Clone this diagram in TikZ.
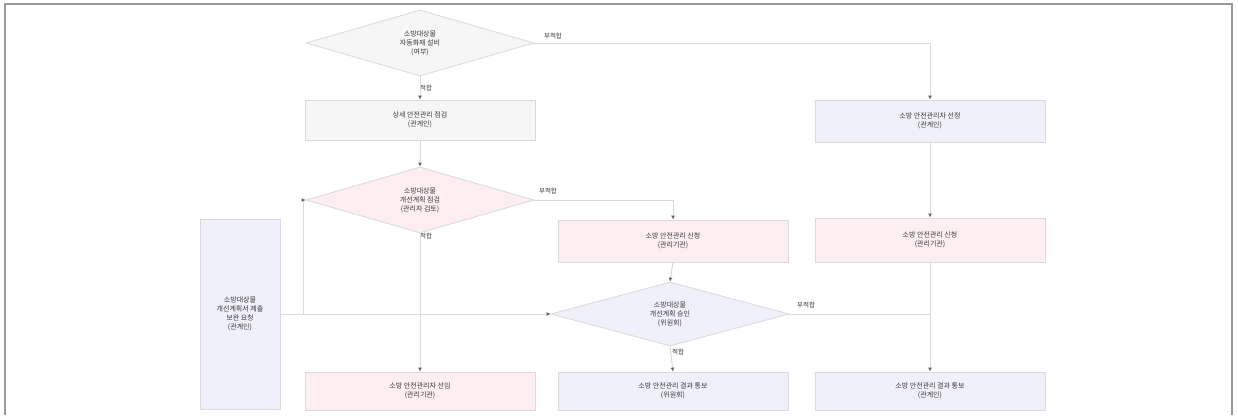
\documentclass[tikz,border=0pt]{standalone}
\usepackage{fontspec}
\setmainfont{Noto Sans CJK KR}
\usetikzlibrary{shapes.geometric,arrows.meta}
\definecolor{pinkf}{HTML}{FCEEF1}
\definecolor{lavf}{HTML}{F0F0FB}
\definecolor{grayf}{HTML}{F6F6F6}
\definecolor{edge}{HTML}{DADADA}
\definecolor{txt}{HTML}{3A3A3A}
\tikzset{
  every node/.style={font=\fontsize{7}{9}\selectfont, text=txt, align=center},
  procbox/.style={draw=edge, line width=0.8pt, minimum width=230pt, minimum height=40pt, inner sep=0pt},
  decide/.style={draw=edge, line width=0.8pt, diamond, aspect=3.5, minimum width=228pt, minimum height=66pt, inner sep=0pt},
  conn/.style={draw=edge, line width=1pt},
  arr/.style={conn, -{Latex[length=4pt,width=4pt,color=gray!80!black]}},
  lbl/.style={font=\fontsize{6.5}{7.5}\selectfont, inner sep=1pt}
}
\begin{document}
\begin{tikzpicture}[x=1pt,y=-1pt]
\useasboundingbox (0,0) rectangle (1238,415);
\fill[white] (0,0) rectangle (1238,415);
% frame
\draw[gray!80, line width=1.6pt] (5,415) -- (5,4) -- (1232,4) -- (1232,415);

% nodes
\node[decide, fill=grayf] (d1) at (420,43) {소방대상물\\자동화재 설비\\(여부)};
\node[procbox, fill=grayf] (b1) at (420,120) {상세 안전관리 점검\\(관계인)};
\node[decide, fill=pinkf] (d2) at (420,200) {소방대상물\\개선계획 점검\\(관리자 검토)};
\node[procbox, fill=pinkf, minimum height=42pt] (b2) at (673,241) {소방 안전관리 신청\\(관리기관)};
\node[decide, fill=lavf, minimum width=238pt, minimum height=64pt] (d3) at (670,314) {소방대상물\\개선계획 승인\\(위원회)};
\node[procbox, fill=lavf, minimum height=38pt] (b3) at (673,391) {소방 안전관리 결과 통보\\(위원회)};
\node[procbox, fill=pinkf, minimum height=38pt] (b4) at (420,391) {소방 안전관리자 선임\\(관리기관)};
\node[procbox, fill=lavf, minimum height=42pt] (r1) at (930,121) {소방 안전관리자 선정\\(관계인)};
\node[procbox, fill=pinkf, minimum height=44pt] (r2) at (930,240) {소방 안전관리 신청\\(관리기관)};
\node[procbox, fill=lavf, minimum height=38pt] (r3) at (930,391) {소방 안전관리 결과 통보\\(관계인)};
\node[procbox, fill=lavf, minimum width=80pt, minimum height=190pt] (lb) at (240,314) {소방대상물\\개선계획서 제출\\보완 요청\\(관계인)};

% labels
\node[lbl] (l1) at (553,36) {부적합};
\node[lbl] (l2) at (426,88) {적합};
\node[lbl] (l3) at (548,191) {부적합};
\node[lbl] (l4) at (426,236) {적합};
\node[lbl] (l5) at (806,305) {부적합};
\node[lbl] (l6) at (678,352) {적합};

% connectors
\coordinate (c1) at (930,43);
\draw[arr] (d1.east) -- (c1) -- (r1.north);
\draw[arr] (d1.south) -- (b1.north);
\draw[arr] (b1.south) -- (d2.north);
\draw[arr] (d2.east) -| (b2.north);
\draw[arr] (d2.south) -- (b4.north);
\draw[arr] (b2.south) -- (d3.north);
\draw[arr] (d3.south) -- (b3.north);
\draw[arr] (r1.south) -- (r2.north);
\draw[arr] (r2.south) -- (r3.north);
\coordinate (c3) at (930,314);
\draw[conn] (d3.east) -- (c3);
\coordinate (c4) at (303,314);
\draw[arr] (lb.east) -- (d3.west);
\draw[arr] (c4) |- (d2.west);
\end{tikzpicture}
\end{document}
